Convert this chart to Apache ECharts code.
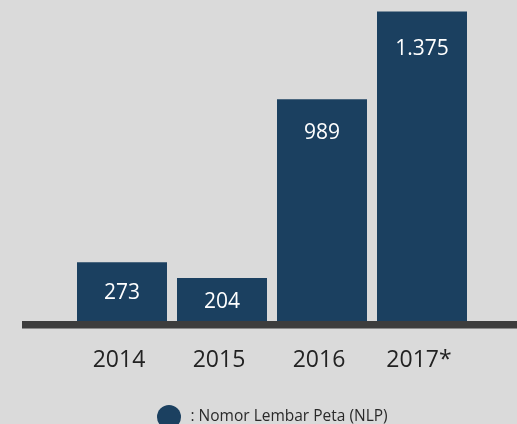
<!DOCTYPE html>
<html>
<head>
<meta charset="utf-8">
<script src="https://cdn.jsdelivr.net/npm/echarts@6/dist/echarts.min.js"></script>
<style>
  html, body { margin: 0; padding: 0; background: #dadada; }
  #main { width: 517px; height: 424px; }
</style>
</head>
<body>
<div id="main"></div>
<script>
// data
var years = ["2014", "2015", "2016", "2017*"];
var nlpCounts = [273, 204, 989, 1375];
var seriesName = "Nomor Lembar Peta (NLP)";
// how far below the bar top each value label sits (px)
var labelDrop = [31, 24, 34, 38];

var barColor = "#1b4060";
var fontFamily = "Open Sans";

var chart = echarts.init(document.getElementById("main"));

chart.setOption({
  backgroundColor: "#dadada",
  animation: false,
  textStyle: { fontFamily: fontFamily },
  legend: {
    left: 152,
    top: 400,
    icon: "circle",
    itemWidth: 25,
    itemHeight: 24,
    data: [seriesName],
    formatter: function (name) {
      return ": " + name;
    },
    textStyle: { fontSize: 15.5, color: "#2a2a2a", padding: [0, 0, 0, 4] }
  },
  grid: [
    { left: 72, width: 400, top: 11.5, bottom: 99.5 },
    // second grid only carries the long baseline
    { left: 22, right: 0, top: 11.5, bottom: 99.5 }
  ],
  xAxis: [
    {
      type: "category",
      gridIndex: 0,
      data: years,
      axisLine: { show: false },
      axisTick: { show: false },
      axisLabel: {
        fontSize: 23,
        color: "#222",
        margin: 24,
        padding: [0, 6, 0, 0]
      }
    },
    {
      type: "category",
      gridIndex: 1,
      data: [""],
      z: 10,
      axisLine: {
        show: true,
        lineStyle: {
          color: "#3d3d3d",
          width: 7,
          cap: "butt",
          shadowColor: "#8a8a8a",
          shadowOffsetY: 1
        }
      },
      axisTick: { show: false },
      axisLabel: { show: false }
    }
  ],
  yAxis: [
    {
      type: "value",
      gridIndex: 0,
      min: 0,
      max: 1375,
      show: false,
      splitLine: { show: false }
    },
    {
      type: "value",
      gridIndex: 1,
      show: false,
      splitLine: { show: false }
    }
  ],
  series: [
    {
      name: seriesName,
      type: "bar",
      xAxisIndex: 0,
      yAxisIndex: 0,
      barWidth: 90,
      itemStyle: { color: barColor },
      data: nlpCounts.map(function (v, i) {
        return {
          value: v,
          label: { position: ["50%", labelDrop[i]] }
        };
      }),
      label: {
        show: true,
        align: "center",
        verticalAlign: "middle",
        color: "#fff",
        fontSize: 21,
        formatter: function (p) {
          return p.value.toLocaleString("de-DE");
        }
      }
    }
  ]
});
</script>
</body>
</html>
